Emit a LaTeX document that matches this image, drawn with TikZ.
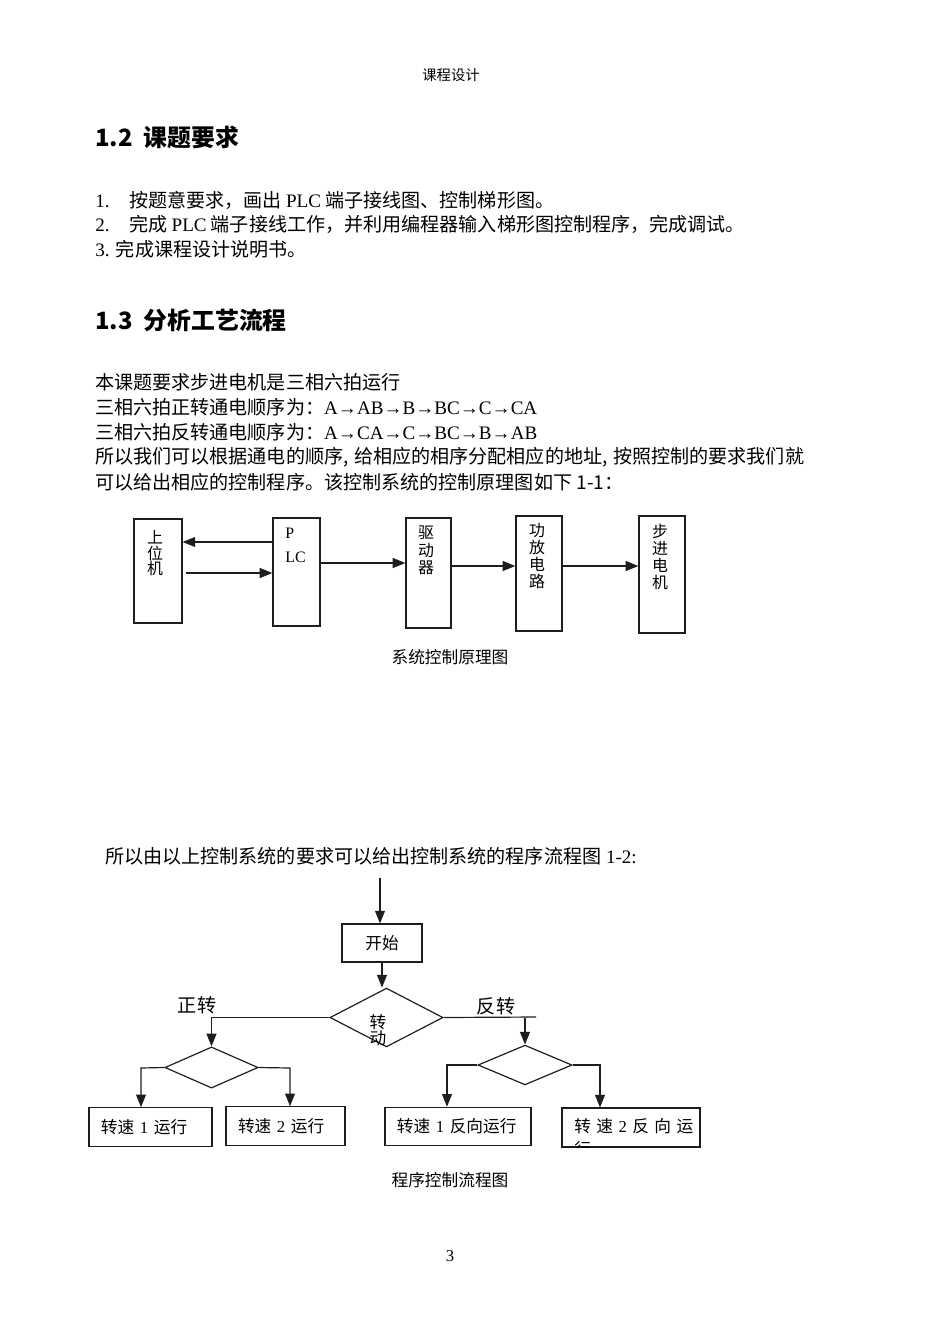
\documentclass[tikz,border=0pt]{standalone}
\usepackage{fontspec}
\setmainfont{Liberation Serif}
\newfontfamily\cjk{Noto Sans CJK SC}
\newfontfamily\timesf{Liberation Serif}
\usetikzlibrary{arrows.meta, shapes.geometric, positioning}

\tikzset{
  blk/.style 2 args={draw=linegray, line width=0.75pt, rectangle, inner sep=0pt,
    minimum width=#1, minimum height=#2},
  dia/.style 2 args={draw=linegray, line width=0.75pt, diamond, inner sep=0pt,
    minimum width=#1, minimum height=#2},
  fbox/.style={draw=linegray, line width=0.75pt, rectangle, inner xsep=2.65mm,
    inner ysep=0pt, minimum height=8.5mm, align=left,
    font=\cjk\fontsize{10.5}{12}\selectfont},
  vtxt/.style={anchor=north, inner sep=0pt, align=center,
    font=\cjk\fontsize{10}{10.7}\selectfont},
  body/.style={anchor=west, inner sep=0pt, font=\cjk\fontsize{12}{14}\selectfont},
  headline/.style={anchor=west, inner sep=0pt, font=\cjk\bfseries\fontsize{15}{18}\selectfont},
  cptn/.style={inner sep=0pt, font=\cjk\fontsize{10.5}{12}\selectfont},
  wire/.style={draw=linegray, line width=0.75pt},
  arr/.style={wire, -{Triangle[length=2.8mm,width=2.2mm]}}
}

\begin{document}
\begin{tikzpicture}[x=0.2211mm, y=-0.2211mm]
\definecolor{linegray}{HTML}{1E1E1E}
\path[use as bounding box, fill=white] (0,0) rectangle (950,1344);

% --- CABECALHO E TEXTO DA PAGINA ---
\node[cptn, font=\cjk\fontsize{9}{11}\selectfont] (hdr) at (451,75) {课程设计};
\node[headline] (h12) at (95,137) {1.2\ \ 课题要求};
\node[body] (r1) at (95,200) {\makebox[7.5mm][l]{\timesf 1.}按题意要求，画出 {\timesf PLC} 端子接线图、控制梯形图。};
\node[body] (r2) at (95,224) {\makebox[7.5mm][l]{\timesf 2.}完成 {\timesf PLC} 端子接线工作，并利用编程器输入梯形图控制程序，完成调试。};
\node[body] (r3) at (95,249) {{\timesf 3. }完成课程设计说明书。};
\node[headline] (h13) at (95,320) {1.3\ \ 分析工艺流程};
\node[body] (p1) at (95,382) {本课题要求步进电机是三相六拍运行};
\node[body] (p2) at (95,407) {三相六拍正转通电顺序为：{\timesf A→AB→B→BC→C→CA}};
\node[body] (p3) at (95,432) {三相六拍反转通电顺序为：{\timesf A→CA→C→BC→B→AB}};
\node[body] (p4) at (95,457) {所以我们可以根据通电的顺序,\hspace{0.3em}给相应的相序分配相应的地址,\hspace{0.3em}按照控制的要求我们就};
\node[body] (p5) at (95,482) {可以给出相应的控制程序。该控制系统的控制原理图如下 1-1：};

% --- DIAGRAMA 1: PRINCIPIO DO SISTEMA ---
\node[blk={10.6mm}{23mm}] (host) at (158,571) {};
\node[blk={10.4mm}{23.9mm}] (plc) at (296.5,572) {};
\node[blk={9.95mm}{24.3mm}] (drv) at (428.5,573) {};
\node[blk={10.2mm}{25.4mm}] (amp) at (539,573.5) {};
\node[blk={10.2mm}{25.9mm}] (motor) at (662,574.5) {};
\node[vtxt, font=\cjk\fontsize{10}{9.8}\selectfont] (hosttxt) at (155,530) {上\\位\\机};
\node[anchor=north west, inner sep=0pt, align=left, font=\timesf\fontsize{10}{15}\selectfont] (plctxt) at (285,528) {P\\LC};
\node[vtxt] (drvtxt) at (426,526) {驱\\动\\器};
\node[vtxt] (amptxt) at (537,523) {功\\放\\电\\路};
\node[vtxt] (motortxt) at (660,524) {步\\进\\电\\机};

\draw[arr] (plc.west|-0,542) -- (host.east|-0,542);
\draw[arr, shorten <=0.7mm] (host.east|-0,573) -- (plc.west|-0,573);
\draw[arr] (plc.east|-0,563) -- (drv.west|-0,563);
\draw[arr] (drv.east|-0,566) -- (amp.west|-0,566);
\draw[arr] (amp.east|-0,566) -- (motor.west|-0,566);
\node[cptn] (cap1) at (450,657) {系统控制原理图};

% --- DIAGRAMA 2: FLUXOGRAMA ---
\node[body] (p6) at (105,856) {所以由以上控制系统的要求可以给出控制系统的程序流程图{\timesf\ 1-2:}};
\coordinate (entry) at (380,878);
\node[blk={17.7mm}{8.4mm}, font=\cjk\fontsize{10.5}{12}\selectfont] (start) at (382,943) {开始\hspace{1.3mm}};
\node[dia={25mm}{13mm}] (turn) at (386.5,1017.5) {};
\node[cptn, align=center, font=\cjk\fontsize{10.5}{10.5}\selectfont] (turntxt) at (378,1030) {转\\动};
\node[cptn, font=\cjk\fontsize{12}{14}\selectfont] (fwd) at (197,1005) {正转};
\node[cptn, font=\cjk\fontsize{12}{14}\selectfont] (rev) at (496,1006) {反转};
\node[dia={20.6mm}{9.1mm}] (ld) at (211.5,1067.5) {};
\node[dia={20.8mm}{8.8mm}] (rd) at (525,1065) {};

\node[fbox, text width=21.9mm] (b1) at (150.5,1127) {转速 {\timesf 1} 运行};
\node[fbox, text width=21mm] (b2) at (285.5,1126) {转速 {\timesf 2} 运行};
\node[fbox, text width=27mm] (b3) at (458,1126.5) {转速 {\timesf 1} 反向运行};
\node[blk={30.5mm}{8.6mm}] (b4) at (631,1127.5) {};
\begin{scope}
\clip (b4.south west) rectangle (b4.north east);
\node[anchor=north west, inner sep=0pt, align=left, font=\cjk\fontsize{10.5}{14.5}\selectfont] (b4txt) at (574,1118) {转\hspace{1.2mm}速\hspace{1.2mm}{\timesf 2}\hspace{1.2mm}反\hspace{1.2mm}向\hspace{1.2mm}运\\行};
\end{scope}

\draw[arr] (entry) -- (entry|-start.north);
\draw[arr] (start.south) -- (start.south|-turn.north);
\draw[arr] (turn.west) -- (ld.north|-turn.west) -- (ld.north);
\coordinate (rstub) at (536,1017);
\draw[wire] (turn.east) -- (rstub);
\draw[arr] (rd.north|-turn.east) -- (rd.north);

\coordinate (l1) at (141,1068);
\coordinate (r1) at (290,1068);
\coordinate (l2) at (447,1065);
\coordinate (r2) at (600,1065);
\draw[arr] (ld.west) -- (l1) -- (l1|-b1.north);
\draw[arr] (ld.east) -- (r1) -- (r1|-b2.north);
\draw[arr] (rd.west) -- (l2) -- (l2|-b3.north);
\draw[arr] (rd.east) -- (r2) -- (r2|-b4.north);

\node[cptn] (cap2) at (450,1180) {程序控制流程图};
\node[cptn, font=\timesf\fontsize{10.5}{12}\selectfont] (pgno) at (450,1256) {3};
\end{tikzpicture}
\end{document}
